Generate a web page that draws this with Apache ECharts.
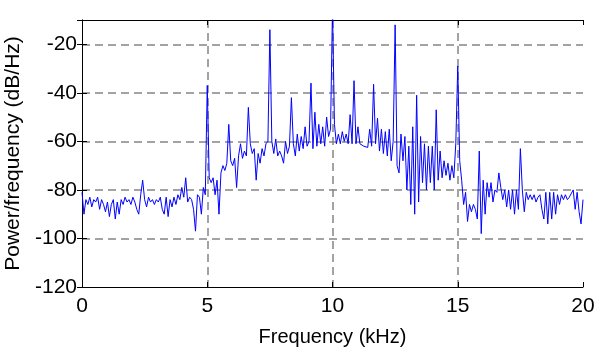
<!DOCTYPE html>
<html>
<head>
<meta charset="utf-8">
<script src="https://cdn.jsdelivr.net/npm/echarts@6/dist/echarts.min.js"></script>
<style>
  html, body { margin: 0; padding: 0; background: #fff; }
  #chart { width: 597px; height: 354px; }
</style>
</head>
<body>
<div id="chart"></div>
<script>
// PSD bins, 257 points over 0..20 kHz
const freqStep = 20 / 256; // kHz per bin
const freqTicks = [0, 5, 10, 15, 20];
const dbTicks = [-120, -100, -80, -60, -40, -20];

// 0 - 4.92 kHz, noise floor
const floorLow = [
  -81, -90, -84, -86, -83, -87, -84, -85, -83, -88, -84, -86, -89, -85, -91, -86,
  -84, -92, -85, -90, -84, -86, -83, -85, -84, -86, -83, -85, -88, -90, -82, -76,
  -84, -87, -83, -85, -84, -86, -84, -85, -83, -88, -90, -83, -91, -84, -87, -83,
  -86, -82, -84, -79, -83, -75, -85, -83, -84, -88, -97, -82, -83, -90, -79, -82
];
// 5 - 14.92 kHz, signal band
const bandMid = [
  -37, -75, -77, -75, -82, -76, -90, -73, -70, -72, -69, -53, -68, -70, -67, -79,
  -66, -61, -67, -64, -66, -46, -61, -65, -63, -76, -65, -69, -63, -66, -61, -60,
  -14, -60, -65, -59, -66, -64, -66, -69, -60, -65, -62, -42, -61, -66, -57, -64,
  -58, -63, -54, -62, -60, -36, -63, -48, -62, -53, -61, -54, -62, -50, -58, -55,
  -5, -53, -61, -57, -61, -56, -60, -57, -61, -49, -61, -35, -61, -54, -61, -61.5,
  -62, -62, -62.5, -55, -62, -36.5, -61, -50.5, -64, -55, -65, -56, -66, -55, -68, -60,
  -12, -70, -73, -57, -68, -58, -80, -62, -86, -54, -90, -41, -85, -58, -77, -61,
  -80, -62, -77, -62, -80, -47, -76, -64, -75, -68, -74, -69, -76, -70, -75, -61
];
// 15 - 20 kHz, noise floor
const floorHigh = [
  -29, -68, -76, -86, -81, -93, -86, -89, -86, -88, -92, -64, -98, -76, -90, -77,
  -83, -77, -85, -80, -81, -73, -79, -84, -80, -87, -80, -88, -80, -90, -80, -88,
  -63, -80, -89, -81, -84, -82, -84, -82, -85, -83, -82, -88, -92, -81, -94, -81,
  -92, -81, -90, -82, -86, -82, -84, -82, -84, -83, -83, -80, -88, -81, -89, -94, -84
];

const powerDb = floorLow.concat(bandMid, floorHigh);
const points = powerDb.map((v, i) => [i * freqStep, v]);

const font = "Liberation Sans";
const gridLine = { show: true, showMinLine: false, showMaxLine: false,
  lineStyle: { color: "#858585", type: [8, 5], width: 1.5 } };
const blackLine = { show: true, lineStyle: { color: "#000", width: 1 } };
const tickIn = { show: true, inside: true, length: 5, lineStyle: { color: "#000" } };

const option = {
  animation: false,
  backgroundColor: "#fff",
  grid: { left: 82, right: 14, top: 20, bottom: 67, outerBoundsMode: "none" },
  xAxis: [
    {
      type: "value", min: 0, max: 20, interval: 5, position: "bottom",
      axisLine: blackLine, axisTick: tickIn,
      axisLabel: {
        color: "#000", fontSize: 21, fontFamily: font, margin: 9,
        formatter: (v) => (freqTicks.includes(v) ? String(v) : ""),
      },
      splitLine: gridLine,
      name: "Frequency (kHz)", nameLocation: "middle", nameGap: 40,
      nameTextStyle: { color: "#000", fontSize: 20, fontFamily: font },
    },
    {
      type: "value", min: 0, max: 20, interval: 5, position: "top",
      axisLine: blackLine, axisTick: tickIn,
      axisLabel: { show: false }, splitLine: { show: false },
    },
  ],
  yAxis: [
    {
      type: "value", min: -120, max: -10, interval: 20, position: "left",
      axisLine: blackLine, axisTick: tickIn,
      axisLabel: {
        color: "#000", fontSize: 21, fontFamily: font, margin: 5,
        formatter: (v) => (dbTicks.includes(v) ? String(v) : ""),
      },
      splitLine: gridLine,
      name: "Power/frequency (dB/Hz)", nameLocation: "middle", nameGap: 47,
      nameTextStyle: { color: "#000", fontSize: 21, fontFamily: font },
    },
    {
      type: "value", min: -120, max: -10, interval: 20, position: "right",
      axisLine: blackLine, axisTick: tickIn,
      axisLabel: { show: false }, splitLine: { show: false },
    },
  ],
  series: [
    {
      type: "line",
      data: points,
      showSymbol: false,
      clip: true,
      lineStyle: { color: "#0000ff", width: 1 },
    },
  ],
};

const myChart = echarts.init(document.getElementById("chart"));
myChart.setOption(option);
</script>
</body>
</html>
